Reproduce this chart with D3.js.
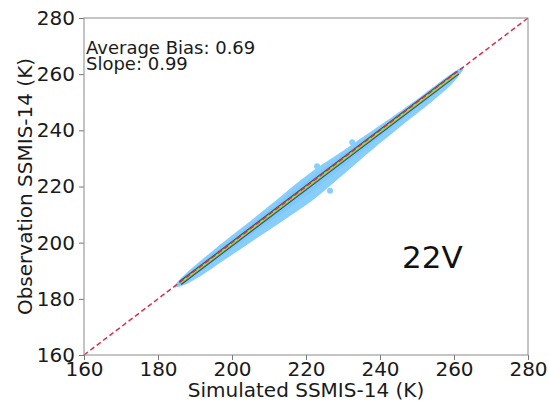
<!DOCTYPE html>
<html>
<head>
<meta charset="utf-8">
<script src="https://cdn.jsdelivr.net/npm/d3@7"></script>
<style>
  body { margin: 0; background: #fff; }
  svg { display: block; font-family: "DejaVu Sans", sans-serif; }
</style>
</head>
<body>
<div id="chart"></div>
<script>
// axis ticks (K)
const tickValues = [160, 180, 200, 220, 240, 260, 280];

// outline of the light blue point cloud: simulated TB and obs-sim spread
const envSim   = [184.5, 186, 189, 194, 199, 204, 209, 214, 219, 223, 228, 233, 238, 242, 246, 251, 256, 260, 262.5];
const envUpper = [0.3, 1.2, 1.8, 2.3, 2.6, 2.7, 3.0, 3.3, 3.8, 3.8, 2.8, 2.5, 2.0, 1.6, 1.2, 1.0, 1.0, 1.0, 0.2];
const envLower = [-0.3, -1.8, -3.0, -3.8, -4.2, -4.8, -5.4, -6.0, -6.6, -6.8, -6.0, -5.4, -4.8, -4.5, -4.2, -4.0, -3.6, -3.0, -1.0];

// a few loose points just outside the main cloud
const blobSim = [223, 226.5, 232.5];
const blobObs = [227.2, 218.5, 235.8];

// dense core (density coloured)
const coreSim = [186, 261];
const coreObs = [185.6, 260.5];

// 1:1 reference
const oneToOne = [160, 280];

const width = 549;
const height = 403;
const marginLeft = 84;
const marginRight = 21;
const marginTop = 18;
const marginBottom = 48;

const x = d3.scaleLinear()
    .domain([160, 280])
    .range([marginLeft, width - marginRight]);

const y = d3.scaleLinear()
    .domain([160, 280])
    .range([height - marginBottom, marginTop]);

const svg = d3.select("#chart").append("svg")
    .attr("width", width)
    .attr("height", height)
    .attr("viewBox", [0, 0, width, height]);

// cloud
const env = envSim.map((s, i) => ({ s: s, hi: s + envUpper[i], lo: s + envLower[i] }));

svg.append("path")
    .datum(env)
    .attr("fill", "#87cefa")
    .attr("d", d3.area()
        .curve(d3.curveBasis)
        .x(d => x(d.s))
        .y0(d => y(d.lo))
        .y1(d => y(d.hi)));

svg.append("g")
    .selectAll("circle")
    .data(blobSim)
    .join("circle")
    .attr("cx", d => x(d))
    .attr("cy", (d, i) => y(blobObs[i]))
    .attr("r", 3)
    .attr("fill", "#87cefa");

// slightly denser inner band
svg.append("path")
    .datum(env)
    .attr("fill", "#6fbcf0")
    .attr("opacity", 0.35)
    .attr("d", d3.area()
        .curve(d3.curveBasis)
        .x(d => x(d.s))
        .y0(d => y(d.s + (d.lo - d.s) * 0.5))
        .y1(d => y(d.s + (d.hi - d.s) * 0.5)));

// core
const core = coreSim.map((s, i) => [x(s), y(coreObs[i])]);
const coreStyles = [
    { c: "#46317e", w: 4.5 },
    { c: "#2f9e86", w: 3 },
    { c: "#7ccf4e", w: 1.8 },
    { c: "#dde318", w: 0.8 }
];
coreStyles.forEach(st => {
    svg.append("path")
        .attr("d", d3.line()(core))
        .attr("stroke", st.c)
        .attr("stroke-width", st.w)
        .attr("fill", "none");
});

// 1:1 line
svg.append("line")
    .attr("x1", x(oneToOne[0]))
    .attr("y1", y(oneToOne[0]))
    .attr("x2", x(oneToOne[1]))
    .attr("y2", y(oneToOne[1]))
    .attr("stroke", "#d8304c")
    .attr("stroke-width", 1.5)
    .attr("stroke-dasharray", "5,3");

// axes
svg.append("g")
    .attr("transform", `translate(0,${height - marginBottom})`)
    .call(d3.axisBottom(x).tickValues(tickValues).tickSize(5).tickPadding(2).tickSizeOuter(0))
    .call(g => g.select(".domain").remove())
    .call(g => g.selectAll(".tick line").attr("stroke", "#777"))
    .call(g => g.selectAll(".tick text").attr("fill", "#1a1a1a").attr("font-size", 20).attr("font-family", "DejaVu Sans"));

svg.append("g")
    .attr("transform", `translate(${marginLeft},0)`)
    .call(d3.axisLeft(y).tickValues(tickValues).tickSize(5).tickPadding(4).tickSizeOuter(0))
    .call(g => g.select(".domain").remove())
    .call(g => g.selectAll(".tick line").attr("stroke", "#777"))
    .call(g => g.selectAll(".tick text").attr("fill", "#1a1a1a").attr("font-size", 20).attr("font-family", "DejaVu Sans"));

// frame
svg.append("rect")
    .attr("x", marginLeft)
    .attr("y", marginTop)
    .attr("width", width - marginLeft - marginRight)
    .attr("height", height - marginTop - marginBottom)
    .attr("fill", "none")
    .attr("stroke", "#8a8a8a")
    .attr("stroke-width", 1);

// labels
svg.append("text")
    .attr("x", (marginLeft + width - marginRight) / 2)
    .attr("y", 397)
    .attr("text-anchor", "middle")
    .attr("font-size", 20)
    .attr("fill", "#1a1a1a")
    .text("Simulated SSMIS-14 (K)");

svg.append("text")
    .attr("transform", `translate(32,${(marginTop + height - marginBottom) / 2}) rotate(-90)`)
    .attr("text-anchor", "middle")
    .attr("font-size", 20)
    .attr("fill", "#1a1a1a")
    .text("Observation SSMIS-14 (K)");

svg.append("text")
    .attr("x", 86)
    .attr("y", 54)
    .attr("font-size", 18)
    .attr("fill", "#1a1a1a")
    .text("Average Bias: 0.69");

svg.append("text")
    .attr("x", 86)
    .attr("y", 70)
    .attr("font-size", 18)
    .attr("fill", "#1a1a1a")
    .text("Slope: 0.99");

svg.append("text")
    .attr("x", 402)
    .attr("y", 268)
    .attr("font-size", 31)
    .attr("fill", "#111")
    .text("22V");
</script>
</body>
</html>
